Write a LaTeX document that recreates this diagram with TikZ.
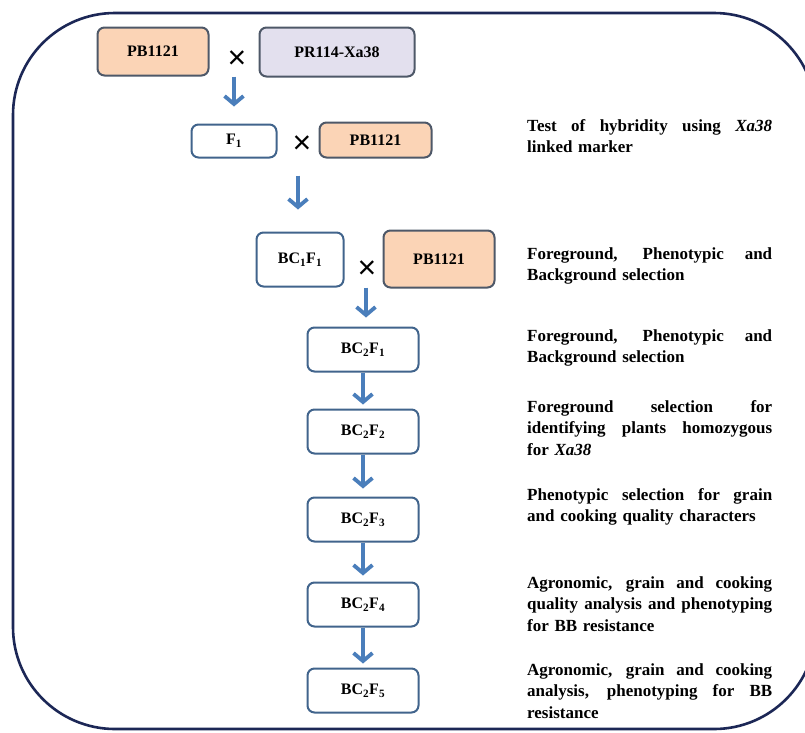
\documentclass[tikz,border=0pt]{standalone}
\usepackage{fontspec}
\setmainfont{Liberation Serif}
\newfontfamily\symfont{Liberation Sans}
\usetikzlibrary{arrows.meta,calc}
\definecolor{framec}{HTML}{1C2756}
\definecolor{boxblue}{HTML}{41648C}
\definecolor{boxgray}{HTML}{4E5868}
\definecolor{peach}{HTML}{FBD4B6}
\definecolor{lav}{HTML}{E3E0EE}
\definecolor{arrc}{HTML}{4A7EBB}
\tikzset{
  box/.style={rounded corners=7pt, line width=2pt, inner sep=0pt,
    font=\fontsize{16}{18}\selectfont\bfseries},
  wbox/.style={box, draw=boxblue, fill=white},
  pbox/.style={box, draw=boxgray, fill=peach},
  lbox/.style={box, draw=boxgray, fill=lav},
  cross/.style={inner sep=0pt, font=\fontsize{32}{32}\symfont},
  arr/.style={draw=arrc, line width=3.8pt,
    -{Straight Barb[length=8pt,width=19pt]}},
  para/.style={anchor=base west, inner sep=0pt, text width=245pt, align=left,
    font=\fontsize{17}{21.7}\selectfont\bfseries}
}
\newcommand{\jl}[1]{\leavevmode\hbox to 245pt{\spaceskip=\fontdimen2\font plus 1fil\relax
  \xspaceskip=\spaceskip #1}}
\begin{document}
\begin{tikzpicture}[x=1pt,y=-1pt]
\useasboundingbox (0,0) rectangle (805,732);
\fill[white] (0,0) rectangle (805,732);
\draw[framec, line width=2.6pt, rounded corners=102pt] (13,13) rectangle (816,729);

% top row
\node[pbox, minimum width=111pt, minimum height=48pt] (p1) at (153,51.5) {PB1121};
\node[cross] (x1) at (237,60) {×};
\node[lbox, minimum width=155pt, minimum height=49pt] (pr) at (337,52) {PR114-Xa38};

% F1 row
\node[wbox, minimum width=85pt, minimum height=33pt] (f1) at (234,141) {F\textsubscript{1}};
\node[cross] (x2) at (302,145) {×};
\node[pbox, minimum width=112pt, minimum height=35pt] (p2) at (375.5,140) {PB1121};

% BC1F1 row
\node[wbox, minimum width=87pt, minimum height=54pt] (bc1) at (300,259.5) {BC\textsubscript{1}F\textsubscript{1}};
\node[cross] (x3) at (367,270) {×};
\node[pbox, minimum width=111pt, minimum height=57pt] (p3) at (439,259) {PB1121};

% BC2 chain
\node[wbox, minimum width=111pt, minimum height=44pt] (b1) at (363,349.5) {BC\textsubscript{2}F\textsubscript{1}};
\node[wbox, minimum width=111pt, minimum height=44pt] (b2) at (363,431.5) {BC\textsubscript{2}F\textsubscript{2}};
\node[wbox, minimum width=111pt, minimum height=44pt] (b3) at (363,519.5) {BC\textsubscript{2}F\textsubscript{3}};
\node[wbox, minimum width=111pt, minimum height=44pt] (b4) at (363,604.5) {BC\textsubscript{2}F\textsubscript{4}};
\node[wbox, minimum width=111pt, minimum height=44pt] (b5) at (363,690.5) {BC\textsubscript{2}F\textsubscript{5}};

% arrows
\draw[arr, shorten >=17pt] (f1.north |- p1.south) -- (f1.north);
\draw[arr, shorten <=17pt, shorten >=22pt] ([xshift=-2pt]bc1.north |- p2.south) -- ([xshift=-2pt]bc1.north);
\draw[arr, shorten >=9pt] ([xshift=-1pt]x3.center |- bc1.south) -- ([xshift=-1pt]x3.center |- b1.north);
\draw[arr, shorten >=4pt] (b1.south) -- (b2.north);
\draw[arr, shorten >=8pt] (b2.south) -- (b3.north);
\draw[arr, shorten >=6pt] (b3.south) -- (b4.north);
\draw[arr, shorten >=4pt] (b4.south) -- (b5.north);

% descriptions
\node[para] (t1) at (527,131) {\jl{Test of hybridity using \textit{Xa38}}\\linked marker};
\node[para] (t2) at (527,259) {\jl{Foreground, Phenotypic and}\\Background selection};
\node[para] (t3) at (527,341) {\jl{Foreground, Phenotypic and}\\Background selection};
\node[para] (t4) at (527,412) {\jl{Foreground selection for}\\\jl{identifying plants homozygous}\\for \textit{Xa38}};
\node[para] (t5) at (527,500) {\jl{Phenotypic selection for grain}\\and cooking quality characters};
\node[para] (t6) at (527,588) {\jl{Agronomic, grain and cooking}\\\jl{quality analysis and phenotyping}\\for BB resistance};
\node[para] (t7) at (527,675) {\jl{Agronomic, grain and cooking}\\\jl{analysis, phenotyping for BB}\\resistance};
\end{tikzpicture}
\end{document}
